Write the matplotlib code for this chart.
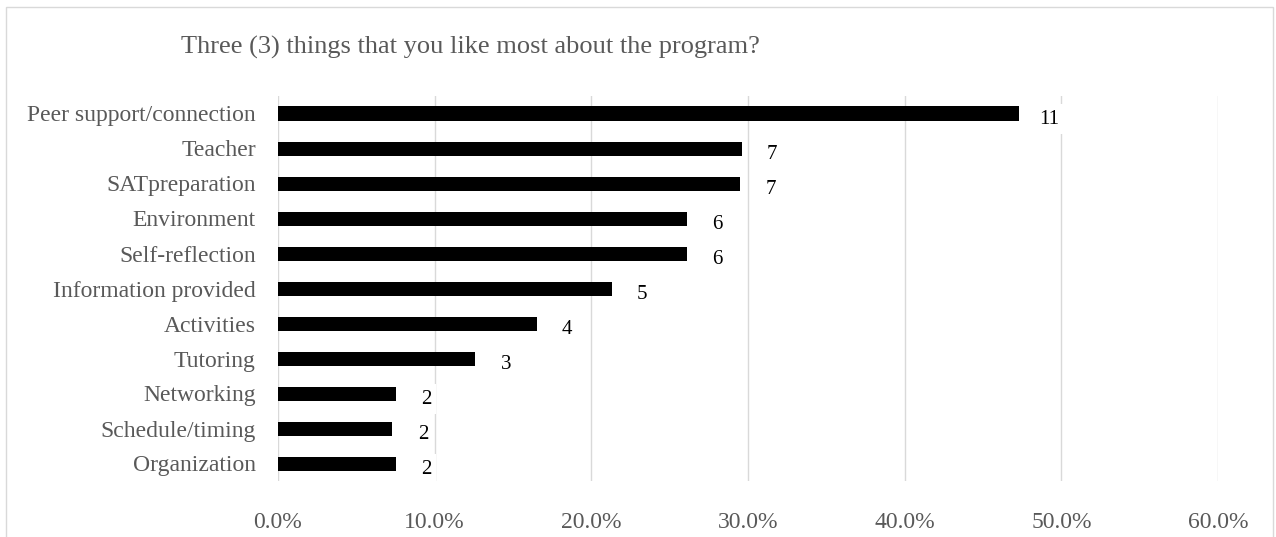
import matplotlib
matplotlib.use("Agg")
import matplotlib.pyplot as plt
from matplotlib.ticker import FuncFormatter, MultipleLocator
from matplotlib.patches import Rectangle

categories = ["Peer support/connection", "Teacher", "SATpreparation", "Environment",
              "Self-reflection", "Information provided", "Activities", "Tutoring",
              "Networking", "Schedule/timing", "Organization"]
percent = [47.3, 29.6, 29.5, 26.1, 26.1, 21.3, 16.5, 12.6, 7.5, 7.3, 7.5]
counts = [11, 7, 7, 6, 6, 5, 4, 3, 2, 2, 2]
title = "Three (3) things that you like most about the program?"

plt.rcParams['font.family'] = ['Liberation Serif', 'DejaVu Serif']
W, H = 1276, 537
fig = plt.figure(figsize=(W / 100, H / 100), dpi=100)
ax = fig.add_axes([278 / W, 1 - 481 / H, (1218 - 278) / W, (481 - 96) / H])

n = len(categories)
ypos = list(range(n))[::-1]
ax.barh(ypos, percent, height=0.4, color='black', zorder=3)
ax.set_ylim(-0.5, n - 0.5)
ax.set_xlim(0, 60)
ax.xaxis.set_major_locator(MultipleLocator(10))
ax.xaxis.set_major_formatter(FuncFormatter(lambda v, p: f"{v:.1f}%"))
ax.set_yticks(ypos)
ax.set_yticklabels(categories)
ax.grid(axis='x', color='#d9d9d9', linewidth=1.0, zorder=0)
ax.set_axisbelow(True)
for s in ax.spines.values():
    s.set_visible(False)
ax.tick_params(axis='both', length=0, colors='#595959', labelsize=17)
ax.tick_params(axis='y', pad=16)
ax.tick_params(axis='x', pad=22)

for y, v, c in zip(ypos, percent, counts):
    ax.annotate(str(c), xy=(v, y), xytext=(22, -4), textcoords='offset points',
                ha='center', va='center', fontsize=15, color='black', zorder=4,
                bbox=dict(boxstyle='square,pad=0.25', fc='white', ec='none'))

fig.text(470 / W, 1 - 47 / H, title, ha='center', va='center', fontsize=19, color='#595959')

fig.patches.append(Rectangle((6 / W, -0.1), (1273 - 6) / W, 1 - 7 / H + 0.1,
                             transform=fig.transFigure, fill=False, ec='#d9d9d9', lw=1.0))

fig.savefig("out.png", dpi=100)
